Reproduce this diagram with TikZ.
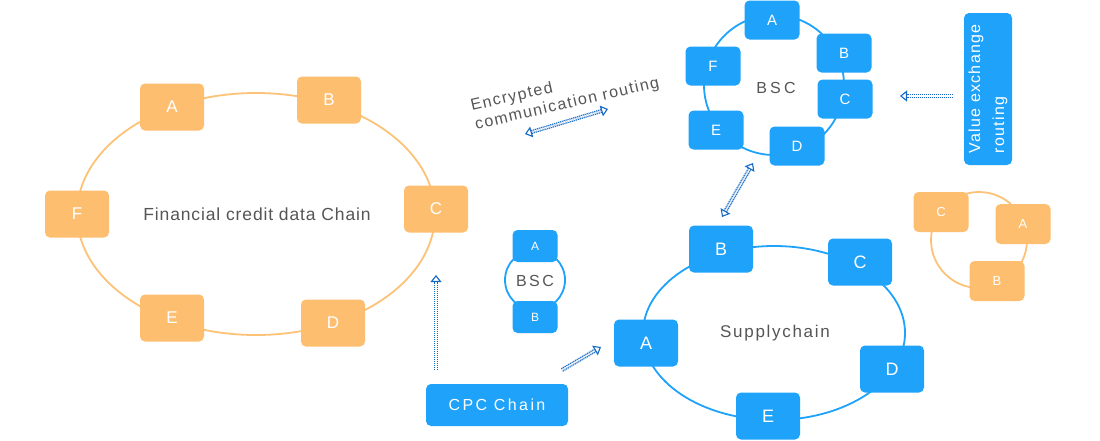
\documentclass[tikz,border=0pt]{standalone}
\usepackage{fontspec}
\setmainfont{Liberation Sans}
\usetikzlibrary{arrows.meta}
\definecolor{orangeF}{RGB}{253,190,111}
\definecolor{orangeL}{RGB}{252,194,120}
\definecolor{blueF}{RGB}{30,162,250}
\definecolor{arrowblue}{RGB}{20,105,195}
\definecolor{txtgrey}{RGB}{85,85,85}
\newcommand{\fs}[2]{\fontsize{#1}{#2}\selectfont}
\begin{document}
\begin{tikzpicture}[x=1pt,y=-1pt,
  box/.style={rounded corners=5pt, text=white, inner sep=0pt},
  onode/.style={box, fill=orangeF, minimum width=64pt, minimum height=47pt, font=\fs{17}{20}},
  osmall/.style={box, fill=orangeF, minimum width=55pt, minimum height=40pt, font=\fs{13}{16}},
  bnode/.style={box, fill=blueF, minimum width=64pt, minimum height=47pt, font=\fs{18}{21}},
  bmid/.style={box, fill=blueF, minimum width=55pt, minimum height=39pt, font=\fs{15}{18}},
  bsmall/.style={box, fill=blueF, minimum width=45pt, minimum height=32pt, font=\fs{12}{14}},
  oring/.style={draw=orangeL, line width=1.8pt},
  bring/.style={draw=blueF, line width=1.8pt},
  label/.style={text=txtgrey, inner sep=0pt},
  flow/.style={draw=arrowblue, line width=1.2pt, double=white, double distance=1.6pt, dash pattern=on 1.2pt off 0.8pt},
  >={Triangle[open, length=7pt, width=11pt, line width=1.1pt]}
]
\useasboundingbox (0,0) rectangle (1100,440);

% ---- Financial credit data chain (orange)
\draw[oring] (256,214) ellipse [x radius=179pt, y radius=121pt];
\node[onode] (fA) at (172,107) {A};
\node[onode] (fB) at (329,100) {B};
\node[onode] (fC) at (436,209) {C};
\node[onode] (fD) at (333,323) {D};
\node[onode] (fE) at (172,318) {E};
\node[onode] (fF) at (77,214) {F};
\node[label, font=\fs{17.5}{20}\addfontfeature{LetterSpace=5}] (ftxt) at (257,214) {Financial credit data Chain};

% ---- BSC top cluster (blue)
\draw[bring] (774,85) circle [radius=70pt];
\node[bmid] (bA) at (772,20) {A};
\node[bmid] (bB) at (844,53) {B};
\node[bmid] (bC) at (845,99) {C};
\node[bmid] (bD) at (797,146) {D};
\node[bmid] (bE) at (716,130) {E};
\node[bmid] (bF) at (713,66) {F};
\node[label, font=\fs{16}{19}\addfontfeature{LetterSpace=20}] (btxt) at (776,88) {BSC};

% ---- Value exchange routing
\node[box, fill=blueF, minimum width=152pt, minimum height=48pt, rotate=90, align=left, font=\fs{16}{24}\addfontfeature{LetterSpace=8}] (vx) at (988,89) {Value exchange\\routing};
\coordinate (vxs) at (953,96);
\coordinate (vxe) at (900,96);
\draw[flow, ->] (vxs) -- (vxe);

% ---- Encrypted communication routing
\node[label, rotate=13, align=left, font=\fs{16}{19}\addfontfeature{LetterSpace=9}] (enc) at (565,95) {Encrypted\\communication routing};
\coordinate (ea) at (525,134);
\coordinate (eb) at (608,109);
\draw[flow, <->] (ea) -- (eb);

% ---- BSC <-> Supplychain
\coordinate (va) at (753,163);
\coordinate (vb) at (722,217);
\draw[flow, <->] (va) -- (vb);

% ---- small BSC
\draw[bring] (535,280) circle [radius=30pt];
\node[bsmall] (sA) at (535,246) {A};
\node[bsmall] (sB) at (535,317) {B};
\node[label, font=\fs{16}{19}\addfontfeature{LetterSpace=15}] (stxt) at (535,281) {BSC};

% ---- Supplychain (blue)
\draw[bring] (774,333) ellipse [x radius=131pt, y radius=87pt];
\node[bnode] (pA) at (646,343) {A};
\node[bnode] (pB) at (721,249) {B};
\node[bnode] (pC) at (860,262) {C};
\node[bnode] (pD) at (892,369) {D};
\node[bnode] (pE) at (768,416) {E};
\node[label, font=\fs{17}{20}\addfontfeature{LetterSpace=10}] (ptxt) at (775,333) {Supplychain};

% ---- small orange cluster
\draw[oring] (979,240) circle [radius=48pt];
\node[osmall] (oC) at (941,212) {C};
\node[osmall] (oA) at (1023,224) {A};
\node[osmall] (oB) at (997,281) {B};

% ---- CPC Chain
\node[box, fill=blueF, minimum width=142pt, minimum height=42pt, font=\fs{16}{19}\addfontfeature{LetterSpace=15}] (cpc) at (497,405) {CPC Chain};
\coordinate (ua) at (436,370);
\coordinate (ub) at (436,275);
\draw[flow, ->] (ua) -- (ub);
\coordinate (da) at (562,370);
\coordinate (db) at (601,347);
\draw[flow, ->] (da) -- (db);
\end{tikzpicture}
\end{document}
